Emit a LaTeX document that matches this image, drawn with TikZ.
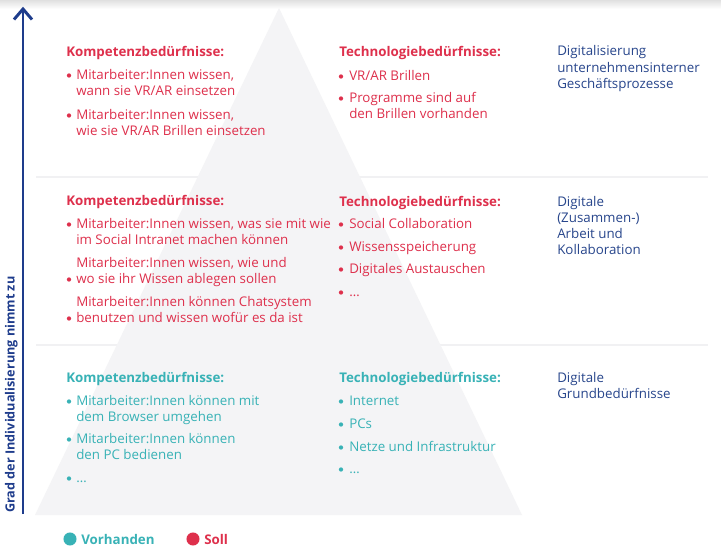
\documentclass[tikz,border=0pt]{standalone}
\usepackage{fontspec}
\setmainfont{Open Sans}
\usetikzlibrary{arrows.meta}
\definecolor{trig}{RGB}{244,244,246}
\definecolor{sred}{RGB}{222,48,76}
\definecolor{steal}{RGB}{56,178,182}
\definecolor{dblue}{RGB}{40,70,140}
\definecolor{ablue}{RGB}{30,60,140}
\definecolor{sepg}{RGB}{241,241,243}
\newcommand\mybul[3]{\fill[#1] (#2,#3) circle (1.6pt);}
\begin{document}
\begin{tikzpicture}[x=0.75pt,y=-0.75pt,
  tx/.style={anchor=base west, inner sep=0pt, font=\fontsize{10}{12}\selectfont},
  hd/.style={anchor=base west, inner sep=0pt, font=\fontsize{10}{12}\selectfont\bfseries},
  sepline/.style={draw=sepg, line width=1.5pt},
  axisline/.style={draw=ablue, line width=2.2pt}]
\useasboundingbox (0,0) rectangle (721,553);
\fill[white] (0,0) rectangle (721,553);
\shade[top color=black!12, bottom color=white] (0,0) rectangle (721,9);
% separators
\draw[sepline] (36,176.5) -- (708,176.5);
\draw[sepline] (36,345) -- (708,345);
% triangle
\fill[trig] (279,8) -- (522,515) -- (35,515) -- cycle;
% axis
\coordinate (axb) at (23,514);
\coordinate (axt) at (23,9);
\coordinate (chl) at (14,19.5);
\coordinate (chr) at (32,19.5);
\draw[axisline] (axb) -- (axt);
\draw[axisline, line join=miter] (chl) -- (axt) -- (chr);
\node[rotate=90, anchor=base west, inner sep=0pt, font=\fontsize{9.5}{11}\selectfont\bfseries, text=ablue] (lab) at (14.5,513) {Grad der Individualisierung nimmt zu};
% ---------- Row 1 (red)
\node[hd, text=sred] (k1h) at (66,56) {Kompetenzbedürfnisse:};
\node[tx, text=sred] (k1a) at (76,79) {Mitarbeiter:Innen wissen,};
\node[tx, text=sred] (k1b) at (76,95) {wann sie VR/AR einsetzen};
\node[tx, text=sred] (k1c) at (76,119) {Mitarbeiter:Innen wissen,};
\node[tx, text=sred] (k1d) at (76,135) {wie sie VR/AR Brillen einsetzen};
\mybul{sred}{69}{75.5}
\mybul{sred}{69}{115.5}
\node[hd, text=sred] (t1h) at (339,56) {Technologiebedürfnisse:};
\node[tx, text=sred] (t1a) at (349,80) {VR/AR Brillen};
\node[tx, text=sred] (t1b) at (349,102) {Programme sind auf};
\node[tx, text=sred] (t1c) at (349,118) {den Brillen vorhanden};
\mybul{sred}{341}{76.5}
\mybul{sred}{341}{98.5}
\node[tx, text=dblue] (d1a) at (557,55) {Digitalisierung};
\node[tx, text=dblue] (d1b) at (557,72) {unternehmensinterner};
\node[tx, text=dblue] (d1c) at (557,88) {Geschäftsprozesse};
% ---------- Row 2 (red)
\node[hd, text=sred] (k2h) at (66,205) {Kompetenzbedürfnisse:};
\node[tx, text=sred] (k2a) at (76,228) {Mitarbeiter:Innen wissen, was sie mit wie};
\node[tx, text=sred] (k2b) at (76,244) {im Social Intranet machen können};
\node[tx, text=sred] (k2c) at (76,267) {Mitarbeiter:Innen wissen, wie und};
\node[tx, text=sred] (k2d) at (76,283) {wo sie ihr Wissen ablegen sollen};
\node[tx, text=sred] (k2e) at (76,306) {Mitarbeiter:Innen können Chatsystem};
\node[tx, text=sred] (k2f) at (76,322) {benutzen und wissen wofür es da ist};
\mybul{sred}{69}{224.5}
\mybul{sred}{69}{279.5}
\mybul{sred}{69}{318.5}
\node[hd, text=sred] (t2h) at (339,206) {Technologiebedürfnisse:};
\node[tx, text=sred] (t2a) at (349,228) {Social Collaboration};
\node[tx, text=sred] (t2b) at (349,251) {Wissensspeicherung};
\node[tx, text=sred] (t2c) at (349,273) {Digitales Austauschen};
\node[tx, text=sred] (t2d) at (349,296) {…};
\mybul{sred}{341}{224.5}
\mybul{sred}{341}{247.5}
\mybul{sred}{341}{269.5}
\mybul{sred}{341}{292.5}
\node[tx, text=dblue] (d2a) at (557,206) {Digitale};
\node[tx, text=dblue] (d2b) at (557,222) {(Zusammen-)};
\node[tx, text=dblue] (d2c) at (557,238) {Arbeit und};
\node[tx, text=dblue] (d2d) at (557,254) {Kollaboration};
% ---------- Row 3 (teal)
\node[hd, text=steal] (k3h) at (66,382) {Kompetenzbedürfnisse:};
\node[tx, text=steal] (k3a) at (76,405) {Mitarbeiter:Innen können mit};
\node[tx, text=steal] (k3b) at (76,421) {dem Browser umgehen};
\node[tx, text=steal] (k3c) at (76,443) {Mitarbeiter:Innen können};
\node[tx, text=steal] (k3d) at (76,459) {den PC bedienen};
\node[tx, text=steal] (k3e) at (76,482) {…};
\mybul{steal}{69}{401.5}
\mybul{steal}{69}{439.5}
\mybul{steal}{69}{478.5}
\node[hd, text=steal] (t3h) at (339,382) {Technologiebedürfnisse:};
\node[tx, text=steal] (t3a) at (349,405) {Internet};
\node[tx, text=steal] (t3b) at (349,428) {PCs};
\node[tx, text=steal] (t3c) at (349,451) {Netze und Infrastruktur};
\node[tx, text=steal] (t3d) at (349,473) {…};
\mybul{steal}{341}{401.5}
\mybul{steal}{341}{424.5}
\mybul{steal}{341}{447.5}
\mybul{steal}{341}{469.5}
\node[tx, text=dblue] (d3a) at (557,382) {Digitale};
\node[tx, text=dblue] (d3b) at (557,398) {Grundbedürfnisse};
% ---------- Legend
\fill[steal] (70,539) circle (4.9pt);
\node[hd, text=steal] (lv) at (81,544) {Vorhanden};
\fill[sred] (193,539) circle (4.9pt);
\node[hd, text=sred] (ls) at (204,544) {Soll};
\end{tikzpicture}
\end{document}
